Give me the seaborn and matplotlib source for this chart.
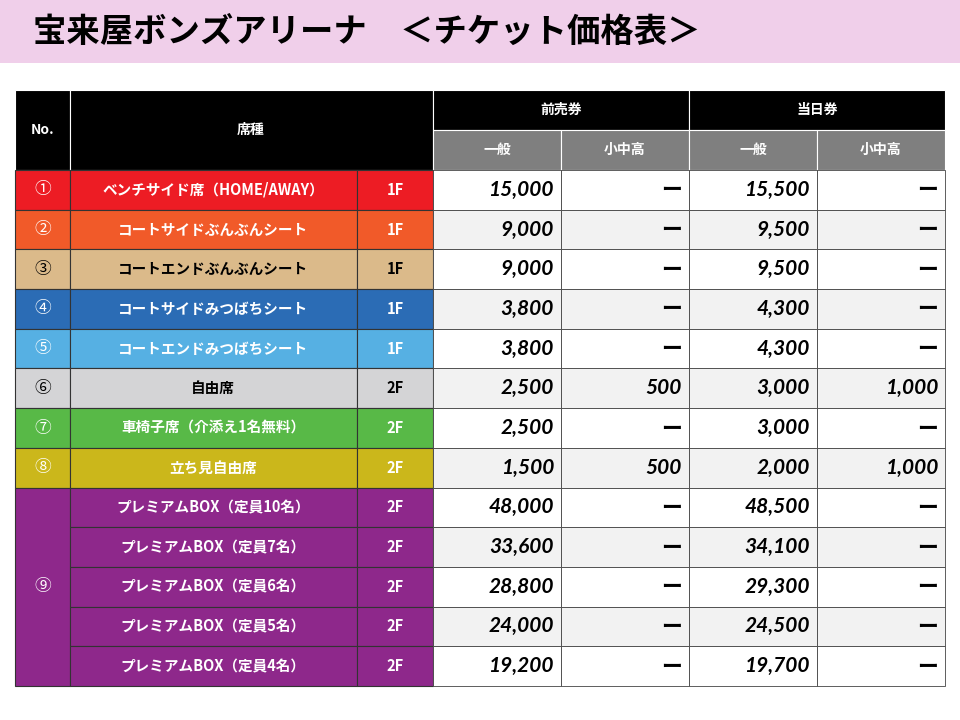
import matplotlib
matplotlib.use("Agg")
import matplotlib.pyplot as plt
import seaborn as sns
from matplotlib.patches import Rectangle

sns.set_theme(style="white")
FONT = "Noto Sans CJK JP"
plt.rcParams["font.family"] = FONT

title = "宝来屋ボンズアリーナ　＜チケット価格表＞"
numbers = ["①", "②", "③", "④", "⑤", "⑥", "⑦", "⑧", "⑨", "", "", "", ""]
seats = ["ベンチサイド席（HOME/AWAY）", "コートサイドぶんぶんシート", "コートエンドぶんぶんシート",
         "コートサイドみつばちシート", "コートエンドみつばちシート", "自由席", "車椅子席（介添え1名無料）",
         "立ち見自由席", "プレミアムBOX（定員10名）", "プレミアムBOX（定員7名）",
         "プレミアムBOX（定員6名）", "プレミアムBOX（定員5名）", "プレミアムBOX（定員4名）"]
floors = ["1F", "1F", "1F", "1F", "1F", "2F", "2F", "2F", "2F", "2F", "2F", "2F", "2F"]
presale_general = [15000, 9000, 9000, 3800, 3800, 2500, 2500, 1500, 48000, 33600, 28800, 24000, 19200]
presale_youth = [None, None, None, None, None, 500, None, 500, None, None, None, None, None]
dayof_general = [15500, 9500, 9500, 4300, 4300, 3000, 3000, 2000, 48500, 34100, 29300, 24500, 19700]
dayof_youth = [None, None, None, None, None, 1000, None, 1000, None, None, None, None, None]
row_colors = ["#ed1c24", "#f15a29", "#dbba8a", "#2b6cb5", "#56b0e3", "#d4d4d6", "#58b947",
              "#cbb71b", "#8e288b", "#8e288b", "#8e288b", "#8e288b", "#8e288b"]
text_colors = ["white", "white", "black", "white", "white", "black", "white",
               "white", "white", "white", "white", "white", "white"]
header_top = ["前売券", "当日券"]
header_sub = ["一般", "小中高", "一般", "小中高"]

fig = plt.figure(figsize=(9.6, 7.2), dpi=100)
ax = fig.add_axes([0, 0, 1, 1])
ax.set_xlim(0, 960); ax.set_ylim(720, 0); ax.axis("off")

def cell(x0, y0, x1, y1, fc, ec="#333333", lw=0.8):
    ax.add_patch(Rectangle((x0, y0), x1 - x0, y1 - y0, facecolor=fc, edgecolor=ec, linewidth=lw))

ax.add_patch(Rectangle((0, 0), 960, 63, facecolor="#f0cfea", edgecolor="none"))
ax.text(33, 32, title, fontsize=24, fontweight="bold", va="center", ha="left", color="black")

xs = [15, 70, 357, 433, 561, 689, 817, 945]
y_top, y_mid, y_hdr = 90, 130, 170
rh = (686 - 170) / 13

cell(15, y_top, 70, y_hdr, "black", "white")
ax.text(42.5, 130, "No.", color="white", fontsize=10, fontweight="bold", ha="center", va="center")
cell(70, y_top, 433, y_hdr, "black", "white")
ax.text(251, 130, "席種", color="white", fontsize=10, fontweight="bold", ha="center", va="center")
for i, h in enumerate(header_top):
    cell(xs[3 + 2 * i], y_top, xs[5 + 2 * i], y_mid, "black", "white")
    ax.text((xs[3 + 2 * i] + xs[5 + 2 * i]) / 2, 110, h, color="white", fontsize=10,
            fontweight="bold", ha="center", va="center")
for i, h in enumerate(header_sub):
    cell(xs[3 + i], y_mid, xs[4 + i], y_hdr, "#7f7f7f", "white")
    ax.text((xs[3 + i] + xs[4 + i]) / 2, 150, h, color="white", fontsize=10,
            fontweight="bold", ha="center", va="center")

def fmt(v):
    return "ー" if v is None else f"{v:,}"

for r in range(13):
    y0 = y_hdr + r * rh; y1 = y0 + rh; yc = (y0 + y1) / 2
    fc = row_colors[r]; tc = text_colors[r]
    if r < 8:
        cell(15, y0, 70, y1, fc)
        ax.text(42.5, yc, numbers[r], color=tc, fontsize=12, ha="center", va="center")
    elif r == 8:
        cell(15, y0, 70, 686, fc)
        ax.text(42.5, (y0 + 686) / 2, numbers[r], color=tc, fontsize=12, ha="center", va="center")
    cell(70, y0, 357, y1, fc)
    ax.text(213, yc, seats[r], color=tc, fontsize=10.5, fontweight="bold", ha="center", va="center")
    cell(357, y0, 433, y1, fc)
    ax.text(395, yc, floors[r], color=tc, fontsize=10.5, fontweight="bold", ha="center", va="center")
    bg = "white" if r % 2 == 0 else "#f2f2f2"
    vals = [presale_general[r], presale_youth[r], dayof_general[r], dayof_youth[r]]
    for j, v in enumerate(vals):
        cell(xs[3 + j], y0, xs[4 + j], y1, bg, "#444444", 0.6)
        ax.text(xs[4 + j] - 7, yc, fmt(v), color="black", fontsize=15, fontweight="bold",
                fontstyle="italic" if v is not None else "normal",
                ha="right", va="center", family="Lato" if v is not None else FONT)

fig.savefig("out.png", dpi=100)
